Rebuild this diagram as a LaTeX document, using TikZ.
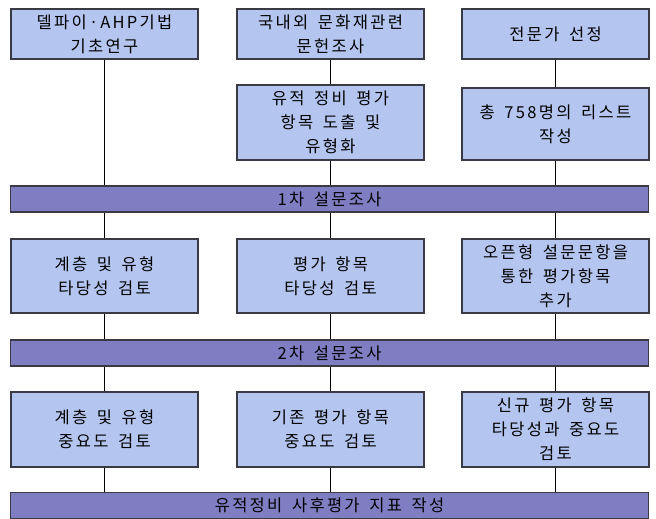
\documentclass[tikz,border=0pt]{standalone}
\usepackage{fontspec}
\newfontfamily\krfont{Noto Sans CJK KR}[LetterSpace=14, WordSpace=1.6]
\definecolor{boxfill}{RGB}{180,198,240}
\definecolor{barfill}{RGB}{128,126,194}
\definecolor{edgegray}{RGB}{58,58,68}
\tikzset{
  figtext/.style={font=\krfont\fontsize{16.5}{24}\selectfont, align=center, inner sep=0pt},
  stepbox/.style={figtext, draw=edgegray, fill=boxfill, line width=1.1pt, minimum width=187pt},
  phasebar/.style={figtext, draw=edgegray, fill=barfill, line width=1.1pt, minimum width=638pt, minimum height=26pt},
  link/.style={line width=0.8pt, black},
}

\begin{document}
\begin{tikzpicture}[x=1pt, y=-1pt]
\useasboundingbox (0,0) rectangle (656,519);
% first row
\node[stepbox, minimum height=50pt] (a1) at (104.5,34) {델파이·AHP기법\\기초연구};
\node[stepbox, minimum height=50pt] (b1) at (330.5,34) {국내외 문화재관련\\문헌조사};
\node[stepbox, minimum height=50pt] (c1) at (555.5,34) {전문가 선정};
\node[stepbox, minimum height=75pt] (b2) at (330.5,122.5) {유적 정비 평가\\항목 도출 및\\유형화};
\node[stepbox, minimum height=72pt] (c2) at (555.5,124) {총 758명의 리스트\\작성};
% survey bars
\node[phasebar] (s1) at (329.5,199) {1차 설문조사};
\node[phasebar] (s2) at (329.5,353) {2차 설문조사};
\node[phasebar] (s3) at (329.5,505.5) {유적정비 사후평가 지표 작성};
% second row
\node[stepbox, minimum height=74pt] (a3) at (104.5,276) {계층 및 유형\\타당성 검토};
\node[stepbox, minimum height=74pt] (b3) at (330.5,276) {평가 항목\\타당성 검토};
\node[stepbox, minimum height=74pt] (c3) at (555.5,276) {오픈형 설문문항을\\통한 평가항목\\추가};
% third row
\node[stepbox, minimum height=75pt] (a4) at (104.5,429.5) {계층 및 유형\\중요도 검토};
\node[stepbox, minimum height=75pt] (b4) at (330.5,429.5) {기존 평가 항목\\중요도 검토};
\node[stepbox, minimum height=75pt] (c4) at (555.5,429.5) {신규 평가 항목\\타당성과 중요도\\검토};
% connectors
\draw[link] (a1.south) -- (a1.south |- s1.north);
\draw[link] (b1.south) -- (b2.north);
\draw[link] (b2.south) -- (b2.south |- s1.north);
\draw[link] (c1.south) -- (c2.north);
\draw[link] (c2.south) -- (c2.south |- s1.north);
\foreach \col in {a,b,c}{
  \draw[link] (\col3.north |- s1.south) -- (\col3.north);
  \draw[link] (\col3.south) -- (\col3.south |- s2.north);
  \draw[link] (\col4.north |- s2.south) -- (\col4.north);
  \draw[link] (\col4.south) -- (\col4.south |- s3.north);
}
\end{tikzpicture}
\end{document}
